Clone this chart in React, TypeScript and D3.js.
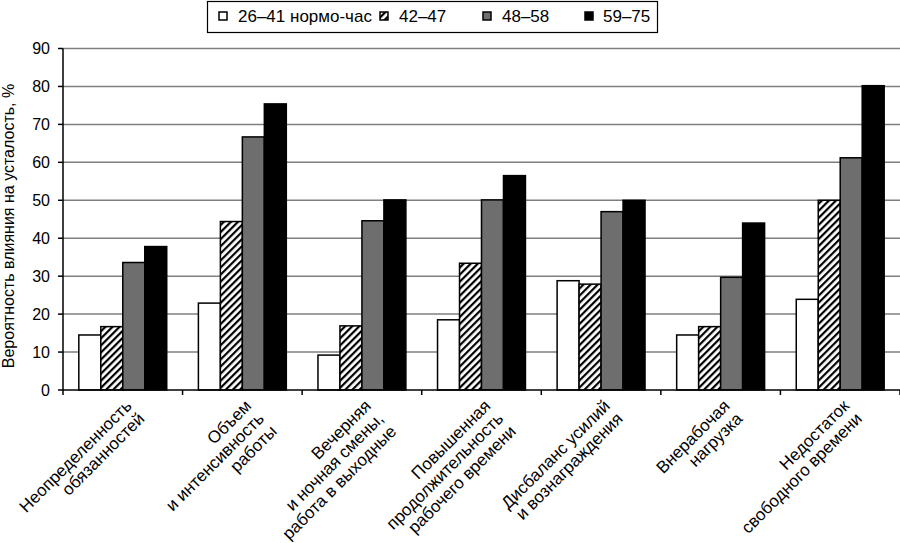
import React, { useEffect, useRef } from "react";
import * as d3 from "d3";

// Categories (line breaks as in the original labels)
const categories = [
    "Неопределенность\nобязанностей",
    "Объем\nи интенсивность\nработы",
    "Вечерняя\nи ночная смены,\nработа в выходные",
    "Повышенная\nпродолжительность\nрабочего времени",
    "Дисбаланс усилий\nи вознаграждения",
    "Внерабочая\nнагрузка",
    "Недостаток\nсвободного времени",
];

const seriesNames = ["26–41 нормо-час", "42–47", "48–58", "59–75"];

const hours26to41 = [14.5, 22.9, 9.2, 18.5, 28.8, 14.5, 23.9];
const hours42to47 = [16.7, 44.4, 16.9, 33.4, 27.9, 16.7, 50.0];
const hours48to58 = [33.6, 66.7, 44.6, 50.1, 47.0, 29.7, 61.2];
const hours59to75 = [37.8, 75.4, 50.1, 56.5, 50.0, 44.0, 80.2];

const yTicks = [0, 10, 20, 30, 40, 50, 60, 70, 80, 90];

const yTitle = "Вероятность влияния на усталость, %";

const WIDTH = 900;
const HEIGHT = 543;
const FONT = "'Liberation Sans', Arial, Helvetica, sans-serif";

export default function App() {
    const svgRef = useRef<SVGSVGElement>(null);

    useEffect(() => {
        if (!svgRef.current) {
            return;
        }
        const svg = d3.select(svgRef.current);
        svg.selectAll("*").remove();

        const series = [hours26to41, hours42to47, hours48to58, hours59to75];
        const fills = ["#ffffff", "url(#hatch)", "#6e6e6e", "#000000"];

        const left = 63;
        const right = 900;
        const top = 48.5;
        const bottom = 390;

        // hatch pattern for the 42–47 series
        const defs = svg.append("defs");
        const pattern = defs.append("pattern")
            .attr("id", "hatch")
            .attr("patternUnits", "userSpaceOnUse")
            .attr("width", 5)
            .attr("height", 5)
            .attr("patternTransform", "rotate(45)");
        pattern.append("rect").attr("width", 5).attr("height", 5).attr("fill", "#fff");
        pattern.append("rect").attr("x", 0).attr("width", 2.2).attr("height", 5).attr("fill", "#000");

        const x = d3.scaleBand<string>()
            .domain(categories)
            .range([left, right]);

        const inner = d3.scaleBand<number>()
            .domain(d3.range(series.length))
            .range([0, x.bandwidth()])
            .paddingOuter(0.72);

        const y = d3.scaleLinear().domain([0, 90]).range([bottom, top]);

        // grid lines
        svg.append("g")
            .selectAll("line")
            .data(yTicks.filter((t) => t > 0))
            .enter()
            .append("line")
            .attr("x1", left)
            .attr("x2", right)
            .attr("y1", (d) => y(d))
            .attr("y2", (d) => y(d))
            .attr("stroke", "#7f7f7f")
            .attr("stroke-width", 1.5);

        // bars
        const groups = svg.append("g")
            .selectAll("g")
            .data(categories)
            .enter()
            .append("g")
            .attr("transform", (d) => `translate(${x(d)},0)`);

        groups.selectAll("rect")
            .data((d, i) => series.map((s, k) => ({ k, v: s[i] })))
            .enter()
            .append("rect")
            .attr("x", (d) => inner(d.k) as number)
            .attr("width", inner.bandwidth())
            .attr("y", (d) => y(d.v))
            .attr("height", (d) => bottom - y(d.v))
            .attr("fill", (d) => fills[d.k])
            .attr("stroke", "#000")
            .attr("stroke-width", 1.5);

        // axes
        const axisG = svg.append("g");
        axisG.append("line")
            .attr("x1", left).attr("x2", left)
            .attr("y1", top).attr("y2", bottom)
            .attr("stroke", "#000").attr("stroke-width", 1.5);
        axisG.append("line")
            .attr("x1", left).attr("x2", right)
            .attr("y1", bottom).attr("y2", bottom)
            .attr("stroke", "#000").attr("stroke-width", 1.5);

        axisG.selectAll("line.ytick")
            .data(yTicks)
            .enter()
            .append("line")
            .attr("class", "ytick")
            .attr("x1", left - 5).attr("x2", left)
            .attr("y1", (d) => y(d)).attr("y2", (d) => y(d))
            .attr("stroke", "#000").attr("stroke-width", 1.5);

        axisG.selectAll("text.ylabel")
            .data(yTicks)
            .enter()
            .append("text")
            .attr("class", "ylabel")
            .attr("x", 50)
            .attr("y", (d) => y(d))
            .attr("dy", "0.36em")
            .attr("text-anchor", "end")
            .attr("font-family", FONT)
            .attr("font-size", 16)
            .attr("fill", "#000")
            .text((d) => d);

        const xTickPos = categories.map((c) => x(c) as number).concat([right]);
        axisG.selectAll("line.xtick")
            .data(xTickPos)
            .enter()
            .append("line")
            .attr("class", "xtick")
            .attr("x1", (d) => d).attr("x2", (d) => d)
            .attr("y1", bottom).attr("y2", bottom + 5)
            .attr("stroke", "#000").attr("stroke-width", 1.5);

        // rotated category labels
        const labels = svg.append("g")
            .selectAll("text")
            .data(categories)
            .enter()
            .append("text")
            .attr("transform", (d) => {
                const cx = (x(d) as number) + x.bandwidth() / 2;
                return `translate(${cx + 10},${bottom + 17}) rotate(-45)`;
            })
            .attr("text-anchor", "end")
            .attr("font-family", FONT)
            .attr("font-size", 17)
            .attr("fill", "#000");

        labels.selectAll("tspan")
            .data((d) => d.split("\n"))
            .enter()
            .append("tspan")
            .attr("x", 0)
            .attr("y", (d, i) => i * 18)
            .text((d) => d);

        // y axis title
        svg.append("text")
            .attr("transform", `translate(14,226) rotate(-90)`)
            .attr("text-anchor", "middle")
            .attr("font-family", FONT)
            .attr("font-size", 16)
            .attr("fill", "#000")
            .text(yTitle);

        // legend
        const legend = svg.append("g");
        legend.append("rect")
            .attr("x", 207.5).attr("y", 1.5)
            .attr("width", 450).attr("height", 31)
            .attr("fill", "#fff")
            .attr("stroke", "#000")
            .attr("stroke-width", 1.2);

        const swatchX = [219, 380, 483, 585];
        const textX = [238, 399, 502, 603];
        seriesNames.forEach((name, k) => {
            legend.append("rect")
                .attr("x", swatchX[k]).attr("y", 12)
                .attr("width", 8).attr("height", 8)
                .attr("fill", fills[k])
                .attr("stroke", "#000")
                .attr("stroke-width", 1.5);
            legend.append("text")
                .attr("x", textX[k])
                .attr("y", 16)
                .attr("dy", "0.36em")
                .attr("font-family", FONT)
                .attr("font-size", 17)
                .attr("fill", "#000")
                .text(name);
        });
    }, []);

    return (
        <div style={{ position: "absolute", left: 0, top: 0, background: "#fff" }}>
            <svg ref={svgRef} width={WIDTH} height={HEIGHT} style={{ display: "block" }} />
        </div>
    );
}
